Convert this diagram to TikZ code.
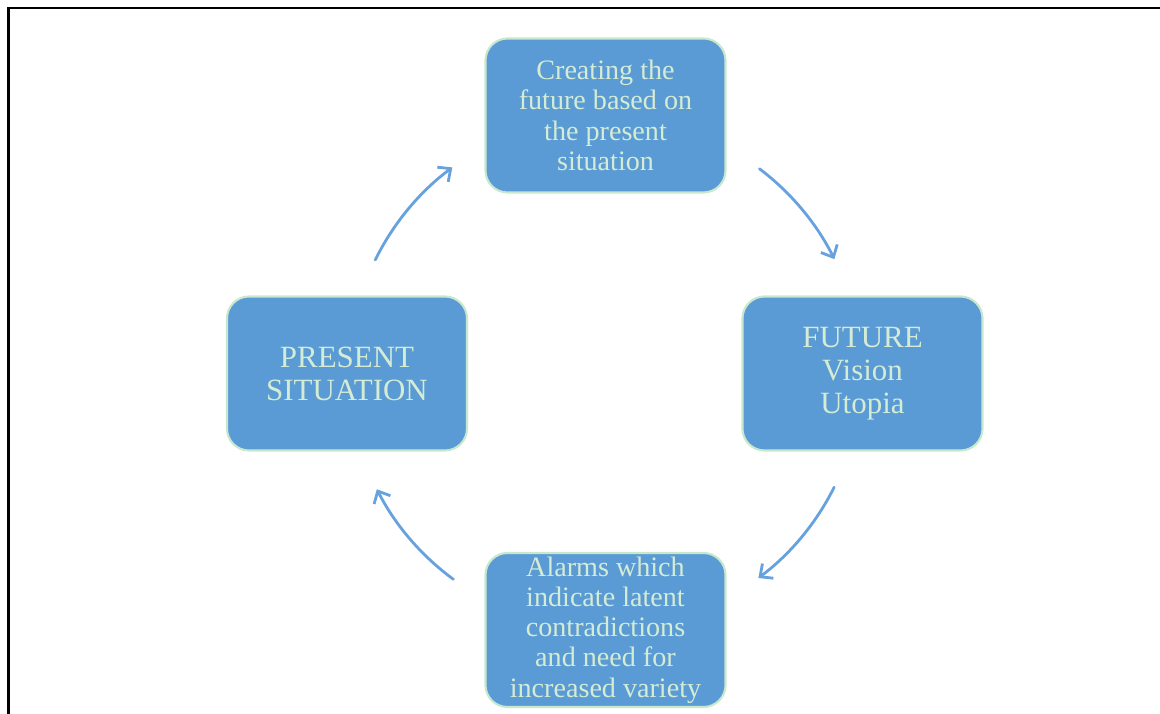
\documentclass[tikz,border=0pt]{standalone}
\usepackage{fontspec}
\setmainfont{Liberation Serif}
\usetikzlibrary{arrows.meta}

\begin{document}
\begin{tikzpicture}[x=0.025cm,y=0.025cm]
    \definecolor{boxfill}{RGB}{91,155,213}
    \definecolor{boxedge}{RGB}{200,232,206}
    \definecolor{boxtext}{RGB}{212,236,212}
    \definecolor{arrowc}{RGB}{104,162,222}

    \tikzset{
      stage/.style={draw=boxedge, line width=1.5pt, fill=boxfill, rounded corners=0.55cm,
        minimum width=6.0cm, minimum height=3.85cm, inner sep=0pt, align=center,
        text=boxtext},
      smalltxt/.style={font=\fontsize{20}{21.5}\selectfont},
      bigtxt/.style={font=\fontsize{22}{23.5}\selectfont},
      cyclearrow/.style={draw=arrowc, line width=2pt, line cap=round,
        -{Straight Barb[length=7pt,width=13pt]}}
    }

    \useasboundingbox (0,0) rectangle (1160,714);
    \draw[line width=1.8pt] (8.7,0) -- (8.7,706) -- (1160,706);

    \node[stage, smalltxt] (create) at (605.5,598.5)
      {Creating the\\future based on\\the present\\situation};
    \node[stage, bigtxt] (present) at (347,340.5) {PRESENT\\SITUATION};
    \node[stage, bigtxt] (future) at (862.5,340.5) {FUTURE\\Vision\\Utopia};
    \node[stage, smalltxt] (alarms) at (605.5,84)
      {Alarms which\\indicate latent\\contradictions\\and need for\\increased variety};

    \coordinate (hub) at (605,341);

    \draw[cyclearrow] ([shift={(153.8:6.4cm)}]hub) arc[start angle=153.8, end angle=126.6, radius=6.4cm];
    \draw[cyclearrow] ([shift={(52.9:6.4cm)}]hub) arc[start angle=52.9, end angle=26.4, radius=6.4cm];
    \draw[cyclearrow] ([shift={(-26.5:6.4cm)}]hub) arc[start angle=-26.5, end angle=-53.2, radius=6.4cm];
    \draw[cyclearrow] ([shift={(233.7:6.4cm)}]hub) arc[start angle=233.7, end angle=207, radius=6.4cm];
  \end{tikzpicture}
\end{document}
